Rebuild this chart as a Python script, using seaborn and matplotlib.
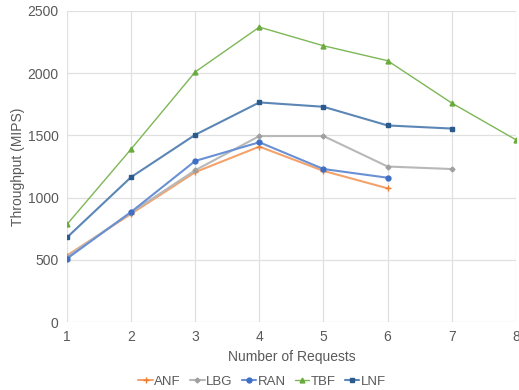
import matplotlib
matplotlib.use("Agg")
import matplotlib.pyplot as plt
import seaborn as sns
import pandas as pd

requests = [1, 2, 3, 4, 5, 6, 7, 8]
anf = [535, 870, 1205, 1410, 1215, 1075]
lbg = [525, 880, 1220, 1495, 1495, 1250, 1230]
ran = [510, 885, 1295, 1445, 1230, 1160]
tbf = [785, 1390, 2010, 2370, 2220, 2100, 1760, 1465]
lnf = [680, 1165, 1505, 1765, 1730, 1580, 1555]

series = {"ANF": anf, "LBG": lbg, "RAN": ran, "TBF": tbf, "LNF": lnf}
rows = []
for name, vals in series.items():
    for x, v in zip(requests, vals):
        rows.append({"Series": name, "Requests": x, "Throughput": v})
df = pd.DataFrame(rows)

sns.set_theme(style="white")
plt.rcParams["font.family"] = ["Liberation Sans", "DejaVu Sans"]

colors = {"ANF": "#F4A26C", "LBG": "#B8B8B8", "RAN": "#6A90D4",
          "TBF": "#7DB756", "LNF": "#5B86B5"}
mcolors = {"ANF": "#ED7D31", "LBG": "#A0A0A0", "RAN": "#3F6FC4",
           "TBF": "#6AAB3E", "LNF": "#2B5A8C"}
markers = {"ANF": "+", "LBG": "D", "RAN": "o", "TBF": "^", "LNF": "s"}
msizes = {"ANF": 4, "LBG": 2.5, "RAN": 3.5, "TBF": 3.5, "LNF": 3}
lwidths = {"ANF": 1.5, "LBG": 1.5, "RAN": 1.5, "TBF": 1.0, "LNF": 1.5}

fig = plt.figure(figsize=(5.19, 3.90), dpi=100)
ax = fig.add_axes([0.129, 0.174, 0.865, 0.798])

for name in series:
    sub = df[df["Series"] == name]
    sns.lineplot(data=sub, x="Requests", y="Throughput", ax=ax,
                 color=colors[name], lw=lwidths[name], marker=markers[name],
                 markersize=msizes[name], markerfacecolor=mcolors[name],
                 markeredgecolor=mcolors[name], markeredgewidth=1.0,
                 label=name)

ax.set_xlim(1, 8)
ax.set_ylim(0, 2500)
ax.set_xticks(requests)
ax.set_yticks([0, 500, 1000, 1500, 2000, 2500])
ax.grid(True, color="#E0E0E0", lw=0.9)
for s in ax.spines.values():
    s.set_visible(False)
ax.tick_params(axis="both", colors="#595959", labelsize=10, length=0, pad=6)
ax.set_xlabel("Number of Requests", color="#595959", fontsize=10, labelpad=4)
ax.set_ylabel("Throughput (MIPS)", color="#595959", fontsize=10, labelpad=2)

handles, labels = ax.get_legend_handles_labels()
ax.get_legend().remove()
fig.legend(handles, labels, loc="lower center", bbox_to_anchor=(0.505, -0.015), ncol=5,
           frameon=False, fontsize=9.5, handlelength=1.1,
           handletextpad=0.1, columnspacing=0.7, labelcolor="#595959",
           borderaxespad=0.2)

fig.savefig("out.png", dpi=100)
